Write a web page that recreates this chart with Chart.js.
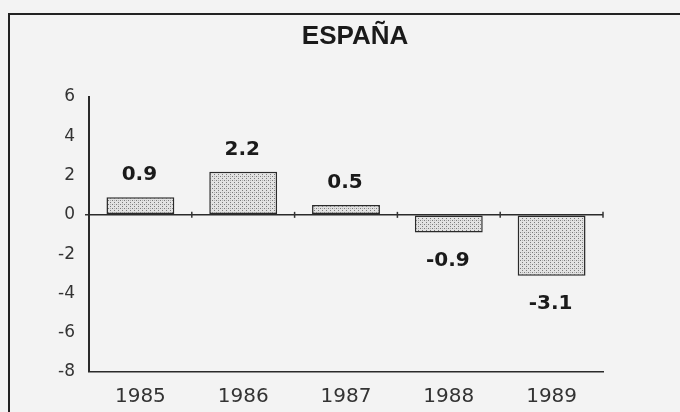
<!DOCTYPE html>
<html>
<head>
<meta charset="utf-8">
<script src="https://cdn.jsdelivr.net/npm/chart.js@4/dist/chart.umd.min.js"></script>
<style>
  html, body { margin: 0; padding: 0; background: #f3f3f3; }
  #wrap { width: 680px; height: 412px; position: relative; }
</style>
</head>
<body>
<div id="wrap"><canvas id="c" width="680" height="412"></canvas></div>
<script>
const title = "ESPAÑA";
const years = ["1985", "1986", "1987", "1988", "1989"];
const values = [0.9, 2.2, 0.5, -0.9, -3.1];
const valueLabels = ["0.9", "2.2", "0.5", "-0.9", "-3.1"];
const yTicks = [6, 4, 2, 0, -2, -4, -6, -8];

function makePattern() {
  const p = document.createElement('canvas');
  p.width = 4; p.height = 4;
  const g = p.getContext('2d');
  g.fillStyle = '#e2e2e2';
  g.fillRect(0, 0, 4, 4);
  g.fillStyle = '#7a7a7a';
  g.fillRect(0, 0, 1, 1);
  g.fillRect(2, 2, 1, 1);
  g.fillStyle = '#b0b0b0';
  g.fillRect(2, 0, 1, 1);
  return g.createPattern(p, 'repeat');
}

const framePlugin = {
  id: 'frame',
  beforeDraw(chart) {
    const ctx = chart.ctx;
    ctx.save();
    ctx.fillStyle = '#f3f3f3';
    ctx.fillRect(0, 0, chart.width, chart.height);
    ctx.strokeStyle = '#222';
    ctx.lineWidth = 2;
    ctx.beginPath();
    ctx.moveTo(9, chart.height + 5);
    ctx.lineTo(9, 14);
    ctx.lineTo(chart.width + 5, 14);
    ctx.stroke();
    ctx.fillStyle = '#1a1a1a';
    ctx.font = 'bold 26px "Liberation Sans", Arial, sans-serif';
    ctx.textAlign = 'center';
    ctx.textBaseline = 'middle';
    ctx.fillText(title, 355, 37);
    ctx.restore();
  },
  afterDatasetsDraw(chart) {
    const ctx = chart.ctx;
    const xs = chart.scales.x;
    const ys = chart.scales.y;
    const y0 = ys.getPixelForValue(0);
    ctx.save();
    ctx.strokeStyle = '#333';
    ctx.lineWidth = 1.5;
    for (let i = 1; i <= years.length; i++) {
      const xb = i < years.length ? (xs.getPixelForValue(i - 1) + xs.getPixelForValue(i)) / 2 : xs.right;
      ctx.beginPath();
      ctx.moveTo(xb, y0 - 3);
      ctx.lineTo(xb, y0 + 3);
      ctx.stroke();
    }
    const meta = chart.getDatasetMeta(0);
    ctx.fillStyle = '#1a1a1a';
    ctx.font = 'bold 20px "DejaVu Sans", sans-serif';
    ctx.textAlign = 'center';
    ctx.textBaseline = 'middle';
    meta.data.forEach((bar, i) => {
      const v = values[i];
      const y = v >= 0 ? bar.y - 22 : bar.y + 28;
      ctx.fillText(valueLabels[i], bar.x - 1, y);
    });
    ctx.restore();
  }
};

new Chart(document.getElementById('c'), {
  type: 'bar',
  data: {
    labels: years,
    datasets: [{
      data: values,
      backgroundColor: makePattern(),
      borderColor: '#2a2a2a',
      borderWidth: 1.5,
      borderSkipped: false,
      barPercentage: 0.66,
      categoryPercentage: 1.0
    }]
  },
  options: {
    responsive: false,
    animation: false,
    devicePixelRatio: 1,
    layout: { padding: { top: 97, left: 39, right: 77, bottom: 3 } },
    plugins: {
      legend: { display: false },
      title: { display: false },
      tooltip: { enabled: false }
    },
    scales: {
      x: {
        afterFit(axis) { axis.height = 37; },
        grid: { display: false, drawTicks: false },
        border: { display: true, color: '#2a2a2a', width: 1.5 },
        ticks: {
          color: '#333',
          padding: 13,
          font: { family: '"DejaVu Sans", sans-serif', size: 20 },
          maxRotation: 0
        }
      },
      y: {
        min: -8,
        max: 6,
        afterBuildTicks(axis) { axis.ticks = yTicks.map(v => ({ value: v })); },
        afterFit(axis) { axis.width = 50; },
        grid: {
          drawTicks: true,
          tickLength: 4,
          tickColor: '#333',
          color: ctx => (ctx.tick && ctx.tick.value === 0) ? '#2a2a2a' : 'rgba(0,0,0,0)',
          lineWidth: ctx => (ctx.tick && ctx.tick.value === 0) ? 1.5 : 0
        },
        border: { display: true, color: '#2a2a2a', width: 2 },
        ticks: {
          color: '#333',
          padding: 10,
          font: { family: '"DejaVu Sans", sans-serif', size: 17 },
          callback: v => String(v)
        }
      }
    }
  },
  plugins: [framePlugin]
});
</script>
</body>
</html>
